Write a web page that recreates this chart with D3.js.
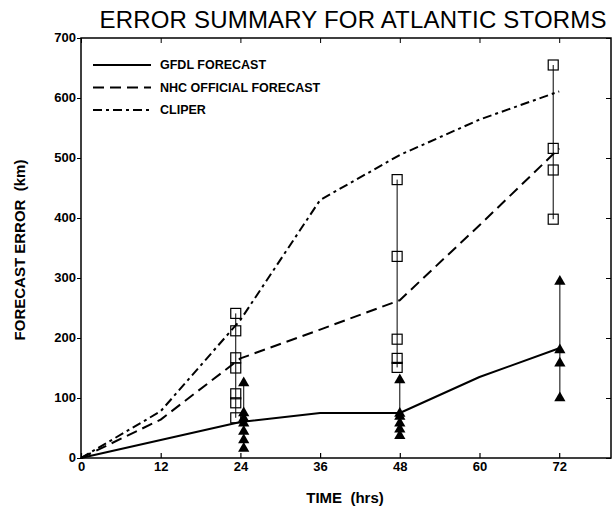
<!DOCTYPE html>
<html>
<head>
<meta charset="utf-8">
<script src="https://cdn.jsdelivr.net/npm/d3@7"></script>
<style>
	body { margin: 0; background: #fff; }
	text { font-family: "Liberation Sans", Arial, sans-serif; fill: #000; }
	.tick text { font-size: 13px; font-weight: bold; }
	.domain { display: none; }
</style>
</head>
<body>
<div class="container"></div>
<script>

const hours = [0, 12, 24, 36, 48, 60, 72];
const gfdl = [0, 30, 60, 75, 75, 135, 183];
const nhc = [0, 64, 166, 214, 263, 388, 516];
const cliper = [0, 78, 230, 430, 505, 564, 611];

// individual storm errors at each forecast time
const squareHours = [23.3, 47.6, 71.1];
const squareValues = [
	[241, 212, 167, 150, 107, 92, 67],
	[464, 336, 198, 166, 151],
	[655, 516, 480, 398]
];
const triangleHours = [24.5, 48, 72.1];
const triangleValues = [
	[125, 75, 66, 58, 44, 30, 16],
	[130, 74, 69, 58, 48, 37],
	[294, 180, 158, 100]
];

const xTicks = [0, 12, 24, 36, 48, 60, 72];
const yTicks = [0, 100, 200, 300, 400, 500, 600, 700];

const legendNames = ['GFDL FORECAST', 'NHC OFFICIAL FORECAST', 'CLIPER'];
const dashes = ['none', '11,6', '9,4,3,4'];

const width = 613, height = 513;
const margin = { top: 38, right: 2, bottom: 55, left: 81 };

const svg = d3.select('.container')
	.append('svg')
		.attr('width', width)
		.attr('height', height);

const x = d3.scaleLinear()
	.domain([0, 79.8])
	.range([margin.left, width - margin.right]);

const y = d3.scaleLinear()
	.domain([0, 700])
	.range([height - margin.bottom, margin.top]);

// frame
svg.append('rect')
	.attr('x', x(0))
	.attr('y', y(700))
	.attr('width', x(79.8) - x(0))
	.attr('height', y(0) - y(700))
	.attr('fill', 'none')
	.attr('stroke', '#000')
	.attr('stroke-width', 1.5);

svg.append('g')
	.attr('transform', `translate(0, ${ y(0) })`)
	.call(d3.axisBottom(x).tickValues(xTicks).tickSizeInner(-5).tickSizeOuter(0).tickPadding(4))
	.call(g => g.selectAll('.tick line').attr('stroke-width', 1.2));

svg.append('g')
	.attr('transform', `translate(0, ${ y(700) })`)
	.call(d3.axisTop(x).tickValues(xTicks).tickSizeInner(-5).tickSizeOuter(0).tickFormat(''));

svg.append('g')
	.attr('transform', `translate(${ x(0) }, 0)`)
	.call(d3.axisLeft(y).tickValues(yTicks).tickSizeInner(4).tickSizeOuter(0).tickPadding(1))
	.call(g => g.selectAll('.tick text').attr('dy', '0.3em'));

svg.append('g')
	.attr('transform', `translate(${ x(79.8) }, 0)`)
	.call(d3.axisRight(y).tickValues(yTicks).tickSizeInner(-5).tickSizeOuter(0).tickFormat(''));

// forecast lines
const line = d3.line()
	.x((d, i) => x(hours[i]))
	.y(d => y(d));

[gfdl, nhc, cliper].forEach((series, i) => {
	svg.append('path')
		.datum(series)
		.attr('d', line)
		.attr('fill', 'none')
		.attr('stroke', '#000')
		.attr('stroke-width', 2)
		.attr('stroke-linejoin', 'round')
		.attr('stroke-dasharray', dashes[i]);
});

// individual storms: vertical connectors
squareHours.forEach((h, i) => {
	svg.append('line')
		.attr('x1', x(h)).attr('x2', x(h))
		.attr('y1', y(d3.max(squareValues[i]))).attr('y2', y(d3.min(squareValues[i])))
		.attr('stroke', '#000').attr('stroke-width', 1);
});
triangleHours.forEach((h, i) => {
	svg.append('line')
		.attr('x1', x(h)).attr('x2', x(h))
		.attr('y1', y(d3.max(triangleValues[i]))).attr('y2', y(d3.min(triangleValues[i])))
		.attr('stroke', '#000').attr('stroke-width', 1);
});

const squares = squareHours.flatMap((h, i) => squareValues[i].map(v => ({ h, v })));
const triangles = triangleHours.flatMap((h, i) => triangleValues[i].map(v => ({ h, v })));

svg.selectAll('rect.storm')
	.data(squares)
		.enter()
	.append('rect')
		.attr('class', 'storm')
		.attr('x', d => x(d.h) - 5)
		.attr('y', d => y(d.v) - 5)
		.attr('width', 10)
		.attr('height', 10)
		.attr('fill', 'none')
		.attr('stroke', '#000')
		.attr('stroke-width', 1.2);

const tri = d3.symbol().type(d3.symbolTriangle).size(55);

svg.selectAll('path.tri')
	.data(triangles)
		.enter()
	.append('path')
		.attr('class', 'tri')
		.attr('d', tri)
		.attr('transform', d => `translate(${ x(d.h) }, ${ y(d.v) })`)
		.attr('fill', '#000');

// legend
const legend = svg.selectAll('g.legend')
	.data(legendNames)
		.enter()
	.append('g')
		.attr('class', 'legend')
		.attr('transform', (d, i) => `translate(93, ${ 65 + i * 22.5 })`);

legend.append('line')
	.attr('x2', 58)
	.attr('stroke', '#000')
	.attr('stroke-width', 2)
	.attr('stroke-dasharray', (d, i) => dashes[i]);

legend.append('text')
	.text(d => d)
	.attr('x', 67)
	.attr('dy', '0.35em')
	.style('font-size', '12.5px')
	.style('font-weight', 'bold');

// titles
svg.append('text')
	.text('ERROR SUMMARY FOR ATLANTIC STORMS')
	.attr('x', 353)
	.attr('y', 28)
	.attr('text-anchor', 'middle')
	.attr('textLength', 507)
	.attr('lengthAdjust', 'spacing')
	.style('font-size', '24px');

svg.append('text')
	.text('TIME  (hrs)')
	.attr('x', 345)
	.attr('y', 503)
	.attr('text-anchor', 'middle')
	.attr('xml:space', 'preserve')
	.style('font-size', '15px')
	.style('font-weight', 'bold');

svg.append('text')
	.text('FORECAST ERROR  (km)')
	.attr('transform', 'translate(25, 250) rotate(-90)')
	.attr('text-anchor', 'middle')
	.attr('xml:space', 'preserve')
	.style('font-size', '15px')
	.style('font-weight', 'bold');

</script>
</body>
</html>
